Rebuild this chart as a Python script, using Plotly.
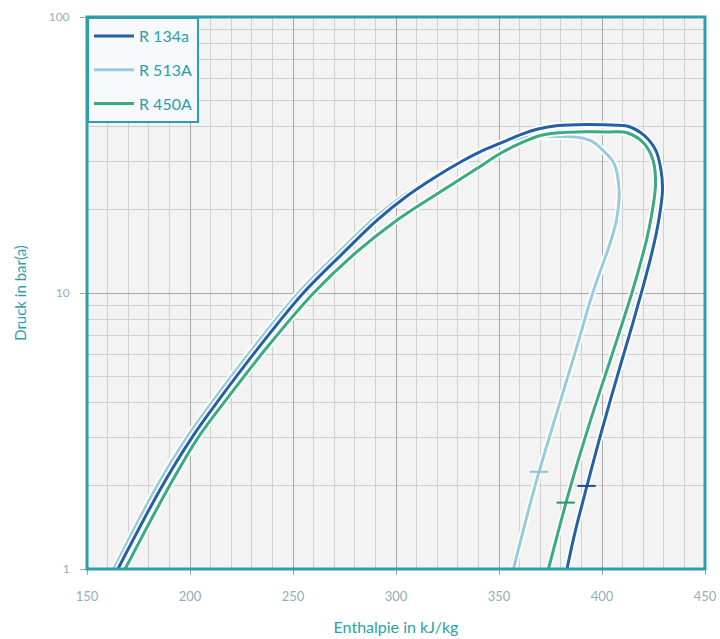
import plotly.graph_objects as go

# Saturation curves (enthalpy kJ/kg, pressure bar(a))
r134a_h = [165, 186.5, 201, 214, 233.5, 255, 274.5, 291, 305.5, 318, 332, 341, 351, 360.5, 369, 377, 388,
           400, 408, 413, 420.3, 426, 428.6, 429.4, 428.8, 426.6, 423.4, 419.4, 414.8, 409.7, 404.3,
           398.6, 392.7, 386.6, 383]
r134a_p = [1, 2, 3, 4.1, 6.37, 10, 14, 18.4, 22.5, 26, 30, 32.5, 35, 37.5, 39.3, 40.3, 40.7,
           40.7, 40.5, 40.1, 37.3, 33, 28, 24, 21.2, 16.8, 13.2, 10.2, 7.7, 5.72, 4.15,
           2.93, 2.0, 1.33, 1]

r513a_h = [163, 184, 198.5, 211.5, 231, 252.5, 272, 288.5, 303.5, 316.5, 331, 340.5, 349, 357, 364, 372,
           380, 388, 395, 400.2, 405.8, 408.3, 407.3, 404.5, 401, 395.5, 386.3, 377, 367.5, 357]
r513a_p = [1, 2, 3, 4.1, 6.37, 10, 14, 18.4, 22.5, 26, 30, 32.5, 34.5, 36, 36.7, 36.9,
           36.9, 36.7, 35.5, 33, 29.5, 23.6, 18.9, 15.6, 13.1, 10, 5.86, 3.47, 2, 1]

r450a_h = [168.5, 190, 204, 217.5, 237.5, 260, 280.5, 300.6, 325.6, 338.5, 350.8, 360.5, 370, 380, 392,
           403, 412.5, 420.3, 424.7, 426, 424.5, 422, 419, 414.5, 404.5, 394.5, 384.8, 374]
r450a_p = [1, 2, 3, 4.1, 6.37, 10, 14, 18.4, 24.3, 28, 32.1, 34.9, 37.2, 38.1, 38.4,
           38.35, 38, 34.9, 30.4, 25, 20, 16, 13.1, 10, 5.86, 3.47, 2, 1]

# -10 °C evaporation marks on the dew lines
mark_names = ["R 134a", "R 513A", "R 450A"]
mark_h = [392.5, 369.4, 382.4]
mark_p = [2.0, 2.25, 1.74]

x_ticks = [150, 200, 250, 300, 350, 400, 450]
y_ticks = [1, 10, 100]

colors = {"R 134a": "#2360a8", "R 513A": "#98cbdc", "R 450A": "#3aab80"}
mark_colors = {"R 134a": "#1d4f8a", "R 513A": "#8fc2d2", "R 450A": "#2f8f68"}
teal = "#2b9fac"

series = [("R 513A", r513a_h, r513a_p, 2), ("R 450A", r450a_h, r450a_p, 3), ("R 134a", r134a_h, r134a_p, 1)]

fig = go.Figure()
for name, h, p, rank in series:
    fig.add_trace(go.Scatter(x=h, y=p, mode="lines", showlegend=False, hoverinfo="skip",
                             line=dict(color="white", width=6.5, shape="spline", smoothing=1)))
    fig.add_trace(go.Scatter(x=h, y=p, mode="lines", name=name, legendrank=rank, legendgroup=name,
                             line=dict(color=colors[name], width=3, shape="spline", smoothing=1)))

for n, h, p in zip(mark_names, mark_h, mark_p):
    fig.add_trace(go.Scatter(x=[h], y=[p], mode="markers", showlegend=False,
                             marker=dict(symbol="line-ew", size=13,
                                         line=dict(color=mark_colors[n], width=2))))

fig.update_layout(
    width=720, height=639,
    margin=dict(l=87, r=15, t=17, b=70),
    paper_bgcolor="white",
    plot_bgcolor="#f3f3f3",
    font=dict(family="Lato, Open Sans, sans-serif", color=teal),
    legend=dict(x=0, y=1, xanchor="left", yanchor="top",
                bgcolor="#f7f9fa", bordercolor=teal, borderwidth=2,
                font=dict(size=16, color=teal), tracegroupgap=10,
                itemwidth=40),
    xaxis=dict(range=[150, 450], tickvals=x_ticks, ticks="outside", ticklen=5,
               tickcolor="#9aa9ad", ticklabelstandoff=10, automargin=False,
               tickfont=dict(size=13, color="#8fb0b7"),
               showgrid=True, gridcolor="#a9a9a9", gridwidth=1,
               minor=dict(dtick=10, showgrid=True, gridcolor="#d0d0d0", gridwidth=1),
               zeroline=False,
               title=dict(text="Enthalpie in kJ/kg", font=dict(size=16, color=teal), standoff=19)),
    yaxis=dict(type="log", range=[0, 2], tickvals=y_ticks, ticktext=[str(v) for v in y_ticks],
               ticks="outside", ticklen=6, tickcolor="#9aa9ad", ticklabelstandoff=8, automargin=False,
               tickfont=dict(size=12, color="#8fb0b7"),
               showgrid=True, gridcolor="#a9a9a9", gridwidth=1,
               minor=dict(dtick="D1", showgrid=True, gridcolor="#cfcfcf", gridwidth=1),
               zeroline=False,
               title=dict(text="Druck in bar(a)", font=dict(size=15, color=teal), standoff=18)),
    shapes=[dict(type="rect", xref="paper", yref="paper", x0=0, y0=0, x1=1, y1=1,
                 line=dict(color=teal, width=3), fillcolor="rgba(0,0,0,0)")],
)

fig.write_html("out.html")
